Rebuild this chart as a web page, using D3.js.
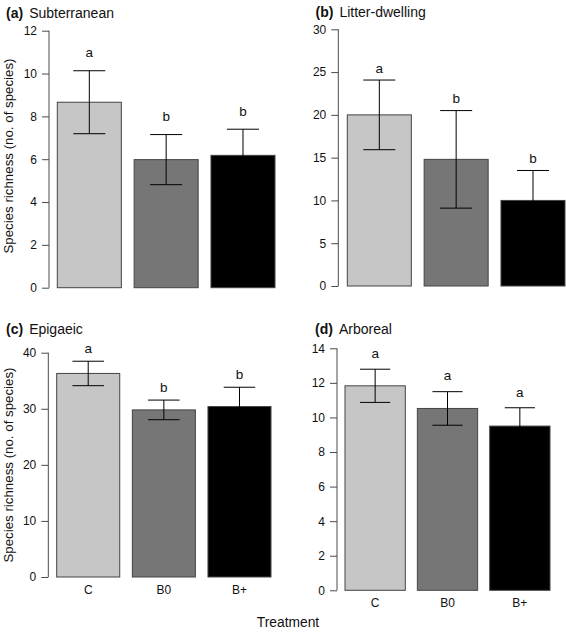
<!DOCTYPE html>
<html>
<head>
<meta charset="utf-8">
<script src="https://cdn.jsdelivr.net/npm/d3@7"></script>
<style>
  html, body { margin: 0; padding: 0; background: #fff; }
  svg { display: block; font-family: "Liberation Sans", Arial, sans-serif; }
</style>
</head>
<body>
<svg id="chart" width="566" height="632"></svg>
<script>
// ---------- data ----------
const categories = ["C", "B0", "B+"];

const subterraneanMean = [8.66, 5.98, 6.18];
const subterraneanSE   = [1.47, 1.17, 1.22];
const subterraneanLetters = ["a", "b", "b"];
const subterraneanTicks = [0, 2, 4, 6, 8, 10, 12];

const litterMean = [20.0, 14.8, 10.0];
const litterSE   = [4.07, 5.7, 3.5];
const litterLetters = ["a", "b", "b"];
const litterTicks = [0, 5, 10, 15, 20, 25, 30];

const epigaeicMean = [36.3, 29.8, 30.4];
const epigaeicSE   = [2.18, 1.75, 3.44];
const epigaeicLetters = ["a", "b", "b"];
const epigaeicTicks = [0, 10, 20, 30, 40];

const arborealMean = [11.83, 10.52, 9.5];
const arborealSE   = [0.96, 0.97, 1.06];
const arborealLetters = ["a", "a", "a"];
const arborealTicks = [0, 2, 4, 6, 8, 10, 12, 14];

const panelTags = ["(a)", "(b)", "(c)", "(d)"];
const panelNames = ["Subterranean", "Litter-dwelling", "Epigaeic", "Arboreal"];
const yLabel = "Species richness (no. of species)";
const xLabel = "Treatment";

// ---------- layout & style ----------
const barColors = ["#c6c6c6", "#767676", "#000000"];
const axisColor = "#4a4a4a";

const panels = [
  { mean: subterraneanMean, se: subterraneanSE, letters: subterraneanLetters, ticks: subterraneanTicks,
    axisX: 49, y0: 287.7, yTop: 30.7, barL: 57.3, barR: 275, titleX: 6, titleY: 17.5, letterGap: 13.5,
    yLab: { x: 12.5, y: 156 }, xTicks: false },
  { mean: litterMean, se: litterSE, letters: litterLetters, ticks: litterTicks,
    axisX: 338.3, y0: 286, yTop: 29.3, barL: 347.3, barR: 565, titleX: 315.5, titleY: 17, letterGap: 7.5,
    yLab: null, xTicks: false },
  { mean: epigaeicMean, se: epigaeicSE, letters: epigaeicLetters, ticks: epigaeicTicks,
    axisX: 48.3, y0: 577, yTop: 352.7, barL: 56.7, barR: 271, titleX: 6, titleY: 334.3, letterGap: 8.3,
    yLab: { x: 12.5, y: 465 }, xTicks: true },
  { mean: arborealMean, se: arborealSE, letters: arborealLetters, ticks: arborealTicks,
    axisX: 337, y0: 590.3, yTop: 348.3, barL: 345, barR: 550, titleX: 315, titleY: 334, letterGap: 11.2,
    yLab: null, xTicks: true }
];

const svg = d3.select("#chart");

panels.forEach((p, i) => {
  const g = svg.append("g");
  const ticks = p.ticks;
  const y = d3.scaleLinear().domain([0, ticks[ticks.length - 1]]).range([p.y0, p.yTop]);
  const x = d3.scaleBand().domain(categories).range([p.barL, p.barR])
    .paddingInner(0.2 / 1.2).paddingOuter(0);
  const bw = x.bandwidth();

  // y axis
  const yAxis = d3.axisLeft(y).tickValues(ticks).tickSize(7).tickPadding(5).tickSizeOuter(0);
  const ag = g.append("g").attr("transform", `translate(${p.axisX},0)`).call(yAxis);
  ag.select(".domain").attr("stroke", axisColor).attr("stroke-width", 1)
    .attr("d", `M0,${y(ticks[ticks.length - 1])}V${y(0)}`);
  ag.selectAll(".tick line").attr("stroke", axisColor);
  ag.selectAll(".tick text").attr("fill", "#111").style("font-size", "12px")
    .style("font-family", "'Liberation Sans', Arial, sans-serif");

  // bars
  g.selectAll("rect.bar").data(categories).enter().append("rect")
    .attr("class", "bar")
    .attr("x", c => x(c))
    .attr("y", (c, j) => y(p.mean[j]))
    .attr("width", bw)
    .attr("height", (c, j) => y(0) - y(p.mean[j]))
    .attr("fill", (c, j) => barColors[j])
    .attr("stroke", "#444")
    .attr("stroke-width", 1);

  // error bars
  const eb = g.selectAll("g.err").data(categories).enter().append("g").attr("class", "err");
  eb.append("line")
    .attr("x1", c => x(c) + bw / 2).attr("x2", c => x(c) + bw / 2)
    .attr("y1", (c, j) => y(p.mean[j] + p.se[j]))
    .attr("y2", (c, j) => y(p.mean[j] - p.se[j]));
  eb.append("line")
    .attr("x1", c => x(c) + bw / 4).attr("x2", c => x(c) + bw * 3 / 4)
    .attr("y1", (c, j) => y(p.mean[j] + p.se[j]))
    .attr("y2", (c, j) => y(p.mean[j] + p.se[j]));
  eb.append("line")
    .attr("x1", c => x(c) + bw / 4).attr("x2", c => x(c) + bw * 3 / 4)
    .attr("y1", (c, j) => y(p.mean[j] - p.se[j]))
    .attr("y2", (c, j) => y(p.mean[j] - p.se[j]));
  eb.selectAll("line").attr("stroke", "#000").attr("stroke-width", 1);

  // significance letters
  g.selectAll("text.letter").data(categories).enter().append("text")
    .attr("class", "letter")
    .attr("x", c => x(c) + bw / 2)
    .attr("y", (c, j) => y(p.mean[j] + p.se[j]) - p.letterGap)
    .attr("text-anchor", "middle")
    .style("font-size", "13.5px")
    .attr("fill", "#111")
    .text((c, j) => p.letters[j]);

  // x category labels
  if (p.xTicks) {
    g.selectAll("text.xcat").data(categories).enter().append("text")
      .attr("class", "xcat")
      .attr("x", c => x(c) + bw / 2)
      .attr("y", y(0) + 17)
      .attr("text-anchor", "middle")
      .style("font-size", "12px")
      .attr("fill", "#111")
      .text(c => c);
  }

  // title
  const t = g.append("text").attr("x", p.titleX).attr("y", p.titleY)
    .style("font-size", "14px").attr("fill", "#111");
  t.append("tspan").style("font-weight", "bold").text(panelTags[i]);
  t.append("tspan").attr("dx", 6).text(panelNames[i]);

  // y label
  if (p.yLab) {
    g.append("text")
      .attr("transform", `translate(${p.yLab.x},${p.yLab.y}) rotate(-90)`)
      .attr("text-anchor", "middle")
      .style("font-size", "13.3px")
      .attr("fill", "#111")
      .text(yLabel);
  }
});

// x axis title
svg.append("text")
  .attr("x", 288).attr("y", 627)
  .attr("text-anchor", "middle")
  .style("font-size", "13.8px")
  .attr("fill", "#111")
  .text(xLabel);
</script>
</body>
</html>
